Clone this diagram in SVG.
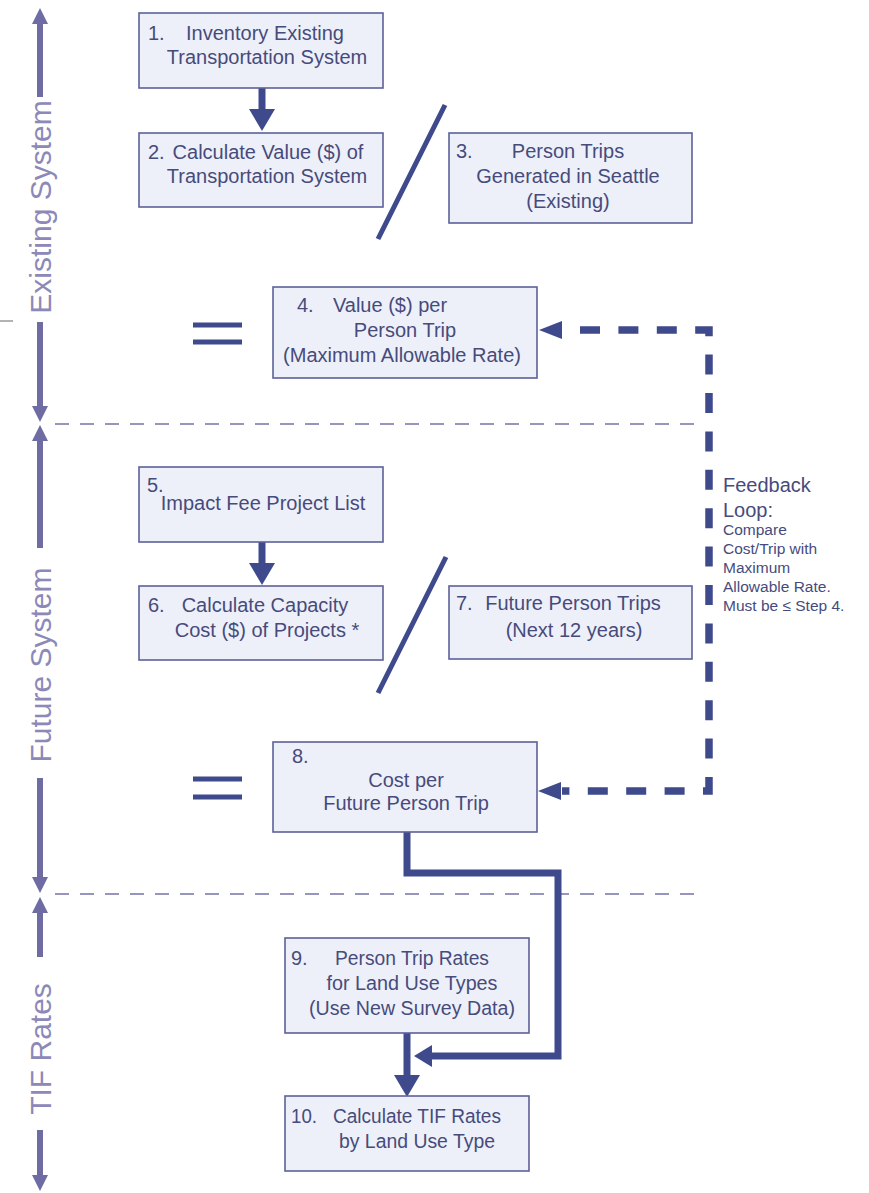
<svg xmlns="http://www.w3.org/2000/svg" width="869" height="1193" viewBox="0 0 869 1193">
<style>
.box{fill:#edf0f8;stroke:#5d6199;stroke-width:1.6}
.t{font-family:"Liberation Sans",Arial,sans-serif;font-size:20px;fill:#474b7c}
.tc{text-anchor:middle}
.side{font-family:"Liberation Sans",Arial,sans-serif;font-size:30px;fill:#8c89b8;text-anchor:middle}
.axis{stroke:#6e6ca2;stroke-width:6;fill:none}
.axhead{fill:#6e6ca2}
.sep{stroke:#7473a6;stroke-width:1.6;stroke-dasharray:14 11;fill:none}
.flow{stroke:#3f4a8c;stroke-width:7;fill:none}
.head{fill:#3f4a8c}
.fb{stroke:#3f4a8c;stroke-width:7.5;fill:none;stroke-dasharray:20 18.4;stroke-dashoffset:20.4}
.ft{font-family:"Liberation Sans",Arial,sans-serif;fill:#474b7c}
</style>
<rect width="869" height="1193" fill="#ffffff"/>
<line x1="0" y1="321" x2="13" y2="321" stroke="#666" stroke-width="1"/>

<g id="axes">
  <line class="axis" x1="40" y1="22" x2="40" y2="97"/>
  <line class="axis" x1="40" y1="322" x2="40" y2="408"/>
  <polygon class="axhead" points="40,8 32,24 48,24"/>
  <polygon class="axhead" points="40,422 32,406 48,406"/>
  <text class="side" transform="translate(51,207) rotate(-90)">Existing System</text>

  <line class="axis" x1="40" y1="438" x2="40" y2="548"/>
  <line class="axis" x1="40" y1="778" x2="40" y2="880"/>
  <polygon class="axhead" points="40,425 32,441 48,441"/>
  <polygon class="axhead" points="40,893 32,877 48,877"/>
  <text class="side" transform="translate(51,665) rotate(-90)">Future System</text>

  <line class="axis" x1="40" y1="910" x2="40" y2="957"/>
  <line class="axis" x1="40" y1="1130" x2="40" y2="1178"/>
  <polygon class="axhead" points="40,897 32,913 48,913"/>
  <polygon class="axhead" points="40,1191 32,1175 48,1175"/>
  <text class="side" transform="translate(51,1049) rotate(-90)">TIF Rates</text>
</g>

<g id="separators">
  <line class="sep" x1="55" y1="424" x2="700" y2="424"/>
  <line class="sep" x1="55" y1="894" x2="700" y2="894"/>
</g>

<g id="operators">
  <line x1="193" y1="325" x2="242" y2="325" stroke="#3f4a8c" stroke-width="5"/>
  <line x1="193" y1="342" x2="242" y2="342" stroke="#3f4a8c" stroke-width="5"/>
  <line x1="193" y1="779" x2="242" y2="779" stroke="#3f4a8c" stroke-width="5"/>
  <line x1="193" y1="797" x2="242" y2="797" stroke="#3f4a8c" stroke-width="5"/>
  <line x1="445" y1="105" x2="378" y2="239" stroke="#3f4a8c" stroke-width="5"/>
  <line x1="446" y1="557" x2="378" y2="693" stroke="#3f4a8c" stroke-width="5"/>
</g>

<g id="connectors">
  <line class="flow" x1="262" y1="88" x2="262" y2="112"/>
  <polygon class="head" points="262,131 249,109 275,109"/>
  <line class="flow" x1="262" y1="542" x2="262" y2="565"/>
  <polygon class="head" points="262,585 249,563 275,563"/>
  <path class="flow" d="M407,832 V873 H558 V1056 H432"/>
  <polygon class="head" points="414,1056 432,1045 432,1067"/>
  <line class="flow" x1="407" y1="1033" x2="407" y2="1077"/>
  <polygon class="head" points="407,1097 394,1075 420,1075"/>
  <path class="fb" d="M562,330 H709 V791 H562"/>
  <polygon class="head" points="539,330 562,321 562,339"/>
  <polygon class="head" points="538,791 561,782 561,800"/>
</g>

<g id="feedback-label">
  <text class="ft" x="723" y="492" font-size="20">Feedback</text>
  <text class="ft" x="723" y="517" font-size="20">Loop:</text>
  <text class="ft" x="723" y="535" font-size="15.5">Compare</text>
  <text class="ft" x="723" y="554" font-size="15.5">Cost/Trip with</text>
  <text class="ft" x="723" y="573" font-size="15.5">Maximum</text>
  <text class="ft" x="723" y="592" font-size="15.5">Allowable Rate.</text>
  <text class="ft" x="723" y="611" font-size="15.5">Must be ≤ Step 4.</text>
</g>

<g id="node1">
  <rect class="box" x="139" y="13" width="244" height="75"/>
  <text class="t" x="148" y="40">1.</text>
  <text class="t tc" x="265" y="40">Inventory Existing</text>
  <text class="t tc" x="267" y="64">Transportation System</text>
</g>
<g id="node2">
  <rect class="box" x="139" y="133" width="244" height="74"/>
  <text class="t" x="148" y="159">2.</text>
  <text class="t tc" x="268" y="159">Calculate Value ($) of</text>
  <text class="t tc" x="267" y="183">Transportation System</text>
</g>
<g id="node3">
  <rect class="box" x="449" y="133" width="243" height="90"/>
  <text class="t" x="456" y="158">3.</text>
  <text class="t tc" x="568" y="158">Person Trips</text>
  <text class="t tc" x="568" y="183">Generated in Seattle</text>
  <text class="t tc" x="568" y="208">(Existing)</text>
</g>
<g id="node4">
  <rect class="box" x="273" y="287" width="264" height="91"/>
  <text class="t" x="297" y="312">4.</text>
  <text class="t tc" x="390" y="312">Value ($) per</text>
  <text class="t tc" x="405" y="337">Person Trip</text>
  <text class="t tc" x="402" y="362">(Maximum Allowable Rate)</text>
</g>
<g id="node5">
  <rect class="box" x="139" y="467" width="244" height="75"/>
  <text class="t" x="147" y="492" font-size="17">5.</text>
  <text class="t tc" x="263" y="510">Impact Fee Project List</text>
</g>
<g id="node6">
  <rect class="box" x="139" y="586" width="244" height="74"/>
  <text class="t" x="148" y="612">6.</text>
  <text class="t tc" x="265" y="612">Calculate Capacity</text>
  <text class="t tc" x="267" y="637">Cost ($) of Projects *</text>
</g>
<g id="node7">
  <rect class="box" x="449" y="586" width="243" height="73"/>
  <text class="t" x="456" y="610">7.</text>
  <text class="t tc" x="573" y="610">Future Person Trips</text>
  <text class="t tc" x="574" y="637">(Next 12 years)</text>
</g>
<g id="node8">
  <rect class="box" x="273" y="742" width="264" height="90"/>
  <text class="t" x="292" y="763">8.</text>
  <text class="t tc" x="406" y="787">Cost per</text>
  <text class="t tc" x="406" y="810">Future Person Trip</text>
</g>
<g id="node9">
  <rect class="box" x="285" y="938" width="244" height="95"/>
  <text class="t" x="291" y="965">9.</text>
  <text class="t tc" x="412" y="965" textLength="154" lengthAdjust="spacingAndGlyphs">Person Trip Rates</text>
  <text class="t tc" x="412" y="990" textLength="171" lengthAdjust="spacingAndGlyphs">for Land Use Types</text>
  <text class="t tc" x="412" y="1015" textLength="206" lengthAdjust="spacingAndGlyphs">(Use New Survey Data)</text>
</g>
<g id="node10">
  <rect class="box" x="285" y="1096" width="244" height="75"/>
  <text class="t" x="291" y="1123" textLength="26" lengthAdjust="spacingAndGlyphs">10.</text>
  <text class="t tc" x="417" y="1123" textLength="168" lengthAdjust="spacingAndGlyphs">Calculate TIF Rates</text>
  <text class="t tc" x="417" y="1148" textLength="156" lengthAdjust="spacingAndGlyphs">by Land Use Type</text>
</g>
</svg>
